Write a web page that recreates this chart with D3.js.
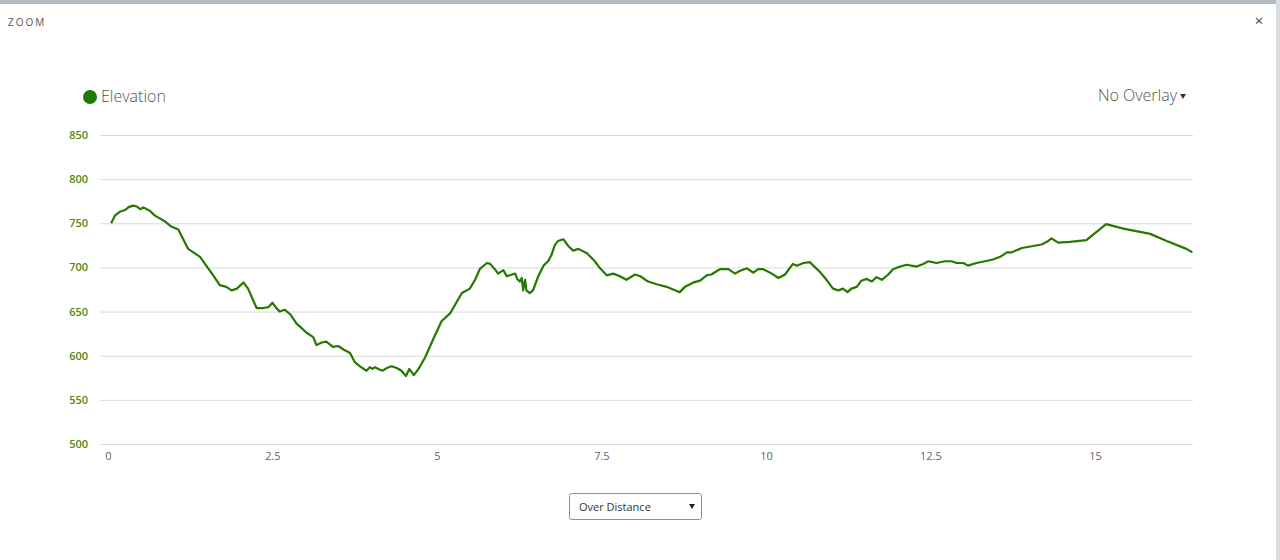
<!DOCTYPE html>
<html><head><meta charset="utf-8">
<script src="https://cdn.jsdelivr.net/npm/d3@7"></script>
<style>
html,body{margin:0;padding:0;background:#fff;overflow:hidden;}
svg{display:block;font-family:"Open Sans","Noto Sans",sans-serif;}
</style></head>
<body>
<svg id="chart" width="1280" height="560"></svg>
<script>
// Distance (km)
const distance = [0.05,0.11,0.18,0.26,0.31,0.38,0.44,0.49,0.54,0.64,0.71,0.87,0.97,1.07,1.22,1.40,1.60,1.70,1.80,1.88,1.96,2.06,2.13,2.26,2.36,2.44,2.50,2.56,2.61,2.69,2.77,2.87,2.92,3.02,3.12,3.17,3.25,3.32,3.42,3.50,3.58,3.68,3.75,3.83,3.93,3.98,4.02,4.06,4.11,4.17,4.24,4.31,4.39,4.46,4.53,4.58,4.65,4.72,4.82,4.94,5.07,5.20,5.38,5.50,5.58,5.65,5.76,5.81,5.88,5.93,6.01,6.06,6.14,6.19,6.22,6.26,6.29,6.31,6.34,6.36,6.41,6.46,6.54,6.62,6.69,6.74,6.79,6.84,6.92,7.00,7.07,7.15,7.28,7.40,7.48,7.58,7.68,7.78,7.88,8.01,8.09,8.21,8.34,8.49,8.59,8.69,8.77,8.90,9.00,9.10,9.17,9.30,9.43,9.53,9.60,9.71,9.81,9.88,9.96,10.09,10.19,10.29,10.41,10.47,10.57,10.67,10.72,10.82,10.92,11.02,11.10,11.17,11.24,11.30,11.38,11.45,11.53,11.61,11.68,11.76,11.86,11.93,12.04,12.14,12.29,12.39,12.47,12.59,12.72,12.82,12.90,13.00,13.07,13.20,13.33,13.45,13.56,13.66,13.73,13.89,14.04,14.19,14.27,14.34,14.44,14.62,14.87,15.17,15.43,15.84,16.09,16.39,16.48];
// Elevation (m)
const elevation = [750,759,763,765,768,770,769,766,768,764,759,752,746,743,721,712,691,680,678,674,676,683,676,654,654,655,660,654,650,652,647,636,633,626,621,612,615,616,610,611,607,603,593,588,583,587,585,587,585,583,586,588,586,583,577,585,578,585,598,618,639,648,671,676,686,698,705,704,698,693,697,690,692,693,687,684,688,674,686,674,671,674,690,702,707,714,725,730,732,724,719,721,716,707,699,691,693,690,686,692,690,684,681,678,675,672,678,683,685,691,692,698,698,693,696,699,694,698,698,693,688,692,704,702,705,706,702,695,686,676,674,676,672,676,678,685,687,684,689,686,692,698,701,703,701,704,707,705,707,707,705,705,702,705,707,709,712,717,717,722,724,726,729,733,728,729,731,749,744,738,730,721,717];
const yTicks = [500,550,600,650,700,750,800,850];
const xTicks = [0,2.5,5,7.5,10,12.5,15];
const xTickLabels = ["0","2.5","5","7.5","10","12.5","15"];
const seriesName = "Elevation";
const overlayLabel = "No Overlay";
const selectLabel = "Over Distance";
const titleLabel = "ZOOM";

const svg = d3.select("#chart");
const x = d3.scaleLinear().domain([-0.12, 16.49]).range([100, 1193]);
const y = d3.scaleLinear().domain([500, 850]).range([444, 135]);

// window chrome
svg.append("rect").attr("x",0).attr("y",0).attr("width",1280).attr("height",4).attr("fill","#b3bcc3");
svg.append("rect").attr("x",1276).attr("y",0).attr("width",4).attr("height",560).attr("fill","#d9dde0");
svg.append("text").attr("x",8).attr("y",26).attr("font-size",10).attr("letter-spacing","2px")
  .attr("fill","#555").text(titleLabel);
svg.append("text").attr("x",1259).attr("y",26).attr("font-size",15).attr("text-anchor","middle")
  .attr("fill","#444").text("×");

// grid
const grid = svg.append("g");
grid.selectAll("line").data(yTicks).join("line")
  .attr("x1",100).attr("x2",1193)
  .attr("y1",d=>y(d)+0.5).attr("y2",d=>y(d)+0.5)
  .attr("stroke","#d9d9d9").attr("stroke-width",1);

// y axis labels
const yAxis = d3.axisLeft(y).tickValues(yTicks).tickSize(0).tickPadding(0);
const ya = svg.append("g").attr("transform","translate(88,0)").call(yAxis);
ya.select(".domain").remove();
ya.selectAll("text").attr("font-size",11).attr("fill","#4f8a10").attr("font-weight",600)
  .attr("font-family","'Open Sans',sans-serif");

// x axis labels
const xAxis = d3.axisBottom(x).tickValues(xTicks).tickFormat((d,i)=>xTickLabels[i]).tickSize(0).tickPadding(0);
const xa = svg.append("g").attr("transform","translate(0,452)").call(xAxis);
xa.select(".domain").remove();
xa.selectAll("text").attr("font-size",11).attr("fill","#666")
  .attr("font-family","'Open Sans',sans-serif");

// line
const data = distance.map((d,i)=>({d, e: elevation[i]}));
const line = d3.line().x(p=>x(p.d)).y(p=>y(p.e));
svg.append("path").datum(data).attr("d",line).attr("fill","none")
  .attr("stroke","#267800").attr("stroke-width",2.2).attr("stroke-linejoin","round");

// legend
svg.append("circle").attr("cx",90).attr("cy",97).attr("r",7).attr("fill","#1f7a0c");
svg.append("text").attr("x",101).attr("y",102).attr("font-size",16).attr("fill","#555")
  .attr("font-weight",300).text(seriesName);

// overlay label
svg.append("text").attr("x",1177).attr("y",101).attr("font-size",16).attr("fill","#555")
  .attr("text-anchor","end").attr("font-weight",300).text(overlayLabel);
svg.append("path").attr("d","M1180,94 L1186,94 L1183,99 Z").attr("fill","#333");

// select box
svg.append("rect").attr("x",569.5).attr("y",493.5).attr("width",132).attr("height",26).attr("rx",2)
  .attr("fill","#fff").attr("stroke","#7f95a8").attr("stroke-width",1);
svg.append("text").attr("x",579).attr("y",511).attr("font-size",11).attr("fill","#333").text(selectLabel);
svg.append("path").attr("d","M689,504 L695,504 L692,509 Z").attr("fill","#222");
</script>
</body></html>
